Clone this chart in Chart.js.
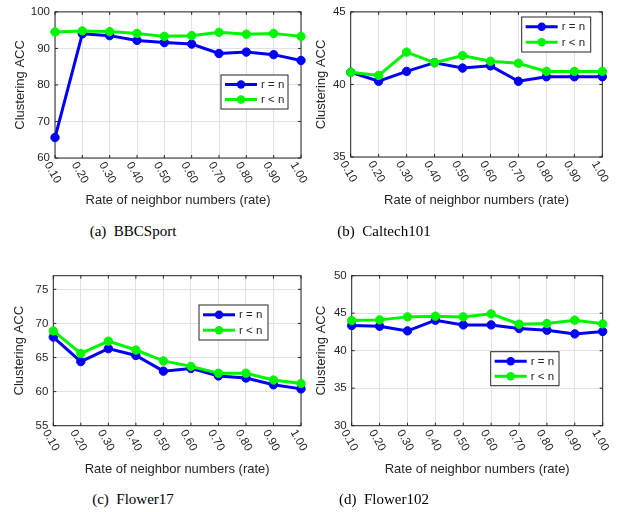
<!DOCTYPE html>
<html>
<head>
<meta charset="utf-8">
<script src="https://cdn.jsdelivr.net/npm/chart.js@4.4.1/dist/chart.umd.min.js"></script>
<style>
  body { margin: 0; background: #fff; width: 629px; height: 512px; position: relative; overflow: hidden; }
  canvas { position: absolute; }
  .cap { position: absolute; font-family: "Liberation Serif", serif; font-size: 15px; color: #000; white-space: pre; transform: translateX(-50%); }
</style>
</head>
<body>
<canvas id="c1" width="314" height="215" style="left:0;top:0"></canvas>
<canvas id="c2" width="319" height="215" style="left:310px;top:0"></canvas>
<canvas id="c3" width="314" height="230" style="left:0;top:250px"></canvas>
<canvas id="c4" width="319" height="230" style="left:310px;top:250px"></canvas>
<div class="cap" style="left:133px;top:223px">(a)  BBCSport</div>
<div class="cap" style="left:384px;top:223px">(b)  Caltech101</div>
<div class="cap" style="left:133px;top:491px">(c)  Flower17</div>
<div class="cap" style="left:384px;top:491px">(d)  Flower102</div>
<script>
const rates = ['0.10', '0.20', '0.30', '0.40', '0.50', '0.60', '0.70', '0.80', '0.90', '1.00'];
const seriesNames = ['r = n', 'r < n'];

// BBCSport
const bbcEq = [65.6, 94.0, 93.5, 92.2, 91.6, 91.2, 88.6, 89.0, 88.3, 86.7];
const bbcLt = [94.5, 94.8, 94.6, 94.1, 93.3, 93.5, 94.4, 93.9, 94.1, 93.3];
const bbcTicks = [60, 70, 80, 90, 100];
// Caltech101
const calEq = [40.84, 40.22, 40.9, 41.5, 41.13, 41.28, 40.22, 40.53, 40.53, 40.53];
const calLt = [40.84, 40.62, 42.23, 41.5, 41.99, 41.6, 41.46, 40.9, 40.9, 40.9];
const calTicks = [35, 40, 45];
// Flower17
const f17Eq = [68.0, 64.4, 66.3, 65.3, 63.0, 63.4, 62.3, 62.0, 61.0, 60.4];
const f17Lt = [68.9, 65.6, 67.4, 66.1, 64.5, 63.7, 62.7, 62.7, 61.7, 61.2];
const f17Ticks = [55, 60, 65, 70, 75];
// Flower102
const f102Eq = [43.36, 43.27, 42.64, 44.07, 43.44, 43.44, 42.96, 42.73, 42.24, 42.56];
const f102Lt = [44.02, 44.11, 44.51, 44.6, 44.51, 44.91, 43.53, 43.62, 44.07, 43.58];
const f102Ticks = [30, 35, 40, 45, 50];

const axisColor = '#262626';
const gridColor = '#e2e2e2';
const sans = '"Liberation Sans", Arial, sans-serif';

// box, inward ticks, rotated x labels, legend inside the axes
const matlabLook = {
  id: 'matlabLook',
  beforeDatasetsDraw(chart) {
    const ctx = chart.ctx, a = chart.chartArea;
    ctx.save();
    ctx.strokeStyle = axisColor;
    ctx.lineWidth = 1;
    ctx.strokeRect(a.left, a.top, a.right - a.left, a.bottom - a.top);
    ctx.beginPath();
    chart.data.labels.forEach((l, i) => {
      const x = chart.scales.x.getPixelForValue(i);
      ctx.moveTo(x, a.bottom); ctx.lineTo(x, a.bottom - 3);
      ctx.moveTo(x, a.top); ctx.lineTo(x, a.top + 3);
    });
    chart.scales.y.ticks.forEach(t => {
      const y = chart.scales.y.getPixelForValue(t.value);
      ctx.moveTo(a.left, y); ctx.lineTo(a.left + 3, y);
      ctx.moveTo(a.right, y); ctx.lineTo(a.right - 3, y);
    });
    ctx.stroke();
    ctx.restore();
  },
  afterDraw(chart, args, opts) {
    const ctx = chart.ctx, a = chart.chartArea;
    ctx.save();
    ctx.fillStyle = axisColor;
    ctx.font = '11.5px ' + sans;
    ctx.textAlign = 'left';
    ctx.textBaseline = 'middle';
    chart.data.labels.forEach((l, i) => {
      const x = chart.scales.x.getPixelForValue(i);
      ctx.save();
      ctx.translate(x - 8, a.bottom + 5);
      ctx.rotate(Math.PI / 3);
      ctx.fillText(l, 0, 0);
      ctx.restore();
    });
    // legend
    const b = opts.box;
    ctx.fillStyle = '#fff';
    ctx.fillRect(b.x, b.y, b.w, b.h);
    ctx.strokeStyle = axisColor;
    ctx.lineWidth = 1;
    ctx.strokeRect(b.x, b.y, b.w, b.h);
    chart.data.datasets.forEach((ds, i) => {
      const y = b.y + b.h * (i === 0 ? 0.28 : 0.72);
      ctx.strokeStyle = ds.borderColor;
      ctx.lineWidth = 3;
      ctx.beginPath();
      ctx.moveTo(b.x + 4, y); ctx.lineTo(b.x + 36, y);
      ctx.stroke();
      ctx.fillStyle = ds.borderColor;
      ctx.beginPath();
      ctx.arc(b.x + 20, y, 4.2, 0, Math.PI * 2);
      ctx.fill();
      ctx.fillStyle = axisColor;
      ctx.font = '11.5px ' + sans;
      ctx.textBaseline = 'middle';
      ctx.fillText(ds.label, b.x + 40, y + 0.5);
    });
    ctx.restore();
  }
};

function makeChart(p) {
  const mkSet = (label, data, color, order) => ({
    label, data, order,
    borderColor: color, backgroundColor: color,
    pointBackgroundColor: color, pointBorderColor: color,
    borderWidth: 3, pointRadius: 4.2, pointBorderWidth: 1,
    tension: 0, clip: false
  });
  return new Chart(document.getElementById(p.id), {
    type: 'line',
    data: {
      labels: rates,
      datasets: [
        mkSet(seriesNames[0], p.eq, '#0000f5', 1),
        mkSet(seriesNames[1], p.lt, '#00f500', 0)
      ]
    },
    options: {
      responsive: false,
      animation: false,
      layout: { padding: p.pad, autoPadding: false },
      plugins: { legend: { display: false }, tooltip: { enabled: false }, matlabLook: { box: p.legend } },
      scales: {
        x: {
          offset: false,
          grid: { color: gridColor, drawTicks: false },
          border: { display: false },
          ticks: { display: false },
          title: { display: true, text: 'Rate of neighbor numbers (rate)', color: axisColor,
                   font: { family: sans, size: 13 }, padding: { top: 0, bottom: p.xTitlePad } },
          afterFit(s) { s.height = p.xH; }
        },
        y: {
          min: p.ticks[0], max: p.max,
          grid: { color: gridColor, drawTicks: false },
          border: { display: false },
          afterBuildTicks(s) { s.ticks = p.ticks.map(v => ({ value: v })); },
          ticks: { color: axisColor, font: { family: sans, size: 11.5 }, padding: 5 },
          title: { display: true, text: 'Clustering ACC', color: axisColor,
                   font: { family: sans, size: 13 }, padding: { top: p.yTitlePad, bottom: 0 } },
          afterFit(s) { s.width = p.yW; }
        }
      }
    },
    plugins: [matlabLook]
  });
}

const panels = [
  { id: 'c1', eq: bbcEq, lt: bbcLt, ticks: bbcTicks, max: 100, yW: 55, xH: 57,
    pad: { left: 0, top: 10, right: 13, bottom: 0 }, yTitlePad: 12.2, xTitlePad: 7.2,
    legend: { x: 221, y: 75, w: 67, h: 34 } },
  { id: 'c2', eq: calEq, lt: calLt, ticks: calTicks, max: 45, yW: 40.7, xH: 58,
    pad: { left: 0, top: 7, right: 26.7, bottom: 0 }, yTitlePad: 3.9, xTitlePad: 7.2,
    legend: { x: 211.7, y: 17, w: 69, h: 35 } },
  { id: 'c3', eq: f17Eq, lt: f17Lt, ticks: f17Ticks, max: 77, yW: 53.3, xH: 54.3,
    pad: { left: 0, top: 25.7, right: 13, bottom: 0 }, yTitlePad: 11.2, xTitlePad: 3.2,
    legend: { x: 199, y: 55, w: 69, h: 35 } },
  { id: 'c4', eq: f102Eq, lt: f102Lt, ticks: f102Ticks, max: 50, yW: 41.7, xH: 54.3,
    pad: { left: 0, top: 25.7, right: 26.3, bottom: 0 }, yTitlePad: 3.9, xTitlePad: 3.2,
    legend: { x: 180.7, y: 101.7, w: 68.3, h: 34 } }
];
panels.forEach(makeChart);
</script>
</body>
</html>
